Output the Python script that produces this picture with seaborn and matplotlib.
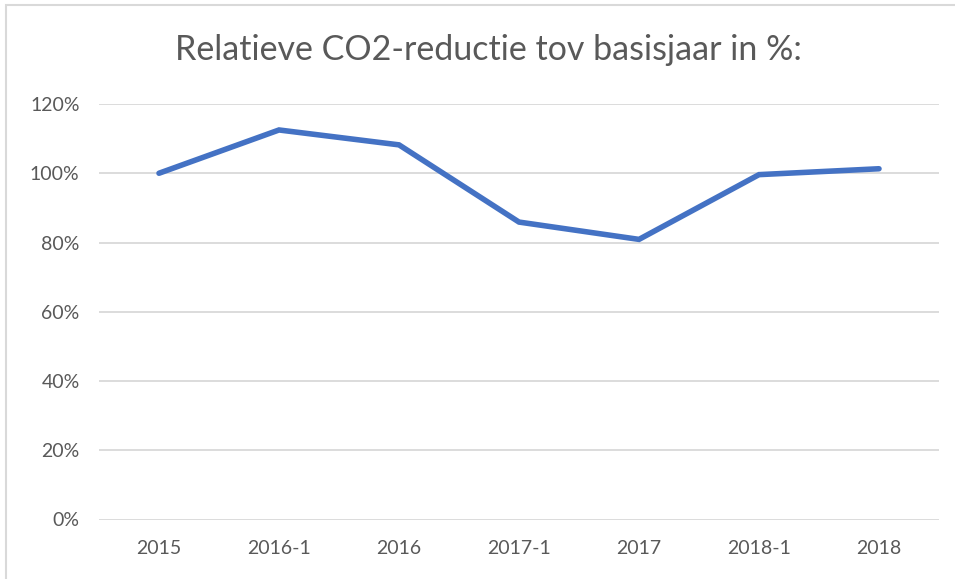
import matplotlib
matplotlib.use("Agg")
import matplotlib.pyplot as plt
from matplotlib.patches import Rectangle
from matplotlib.ticker import FuncFormatter
import seaborn as sns
import pandas as pd

categories = ["2015", "2016-1", "2016", "2017-1", "2017", "2018-1", "2018"]
values = [100.0, 112.5, 108.2, 85.9, 80.9, 99.6, 101.3]
y_ticks = [0, 20, 40, 60, 80, 100, 120]
title = "Relatieve CO2-reductie tov basisjaar in %:"

sns.set_theme(style="white")
plt.rcParams['font.family'] = ['Lato', 'DejaVu Sans']

df = pd.DataFrame({"cat": categories, "val": values})

fig = plt.figure(figsize=(9.55, 5.79), dpi=100)
ax = fig.add_axes([99/955, 1-519.5/579, 840/955, 415.5/579])

sns.lineplot(data=df, x="cat", y="val", ax=ax, color="#4472C4", linewidth=4,
             sort=False, solid_capstyle="round", solid_joinstyle="miter")

ax.set_xlim(-0.5, len(categories) - 0.5)
ax.set_ylim(0, 120)
ax.set_yticks(y_ticks)
ax.yaxis.set_major_formatter(FuncFormatter(lambda v, p: f"{int(v)}%"))
ax.grid(axis="y", color="#d9d9d9", linewidth=1.3)
ax.grid(axis="x", visible=False)
ax.set_axisbelow(True)
for s in ax.spines.values():
    s.set_visible(False)
ax.set_xlabel("")
ax.set_ylabel("")
ax.tick_params(axis="both", length=0, labelsize=14, colors="#595959")
ax.tick_params(axis="x", pad=15)
ax.tick_params(axis="y", pad=14)

fig.text(488/955, 1-50/579, title, ha="center", va="center", fontsize=24.5,
         color="#595959")

fig.patches.append(Rectangle((6/955, -0.1), 2, (579-5)/579 + 0.1,
                             transform=fig.transFigure, fill=False,
                             edgecolor="#d9d9d9", linewidth=1.5))

fig.savefig("out.png", dpi=100, facecolor="white")
